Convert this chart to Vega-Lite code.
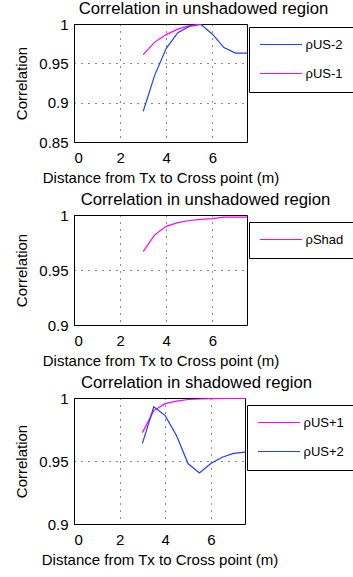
{
  "$schema": "https://vega.github.io/schema/vega-lite/v6.json",
  "padding": {"left": 14, "top": 0, "right": 0, "bottom": 0},
  "spacing": 5,
  "resolve": {"scale": {"color": "independent"}, "legend": {"color": "independent"}},
  "config": {
    "font": "Liberation Sans",
    "view": {"stroke": "black", "strokeWidth": 1},
    "title": {"fontSize": 16.7, "fontWeight": "normal", "color": "black", "offset": -1},
    "axis": {
      "labelFontSize": 15, "titleFontSize": 15, "titleFontWeight": "normal",
      "labelColor": "black", "titleColor": "black",
      "ticks": false, "domain": false,
      "grid": true, "gridColor": "black", "gridDash": [1, 6], "gridOpacity": 0.9, "gridWidth": 1
    },
    "axisX": {"labelPadding": 8, "titlePadding": 5},
    "axisY": {"labelPadding": 6, "titlePadding": 9},
    "legend": {
      "orient": "none", "title": null,
      "strokeColor": "black", "fillColor": "white",
      "symbolType": "M-5,0H5", "symbolSize": 70.56, "symbolStrokeWidth": 1.2,
      "symbolOffset": 14.5, "labelOffset": 18,
      "labelFontSize": 13, "labelColor": "black",
      "padding": 11, "rowPadding": 15
    }
  },
  "datasets": {
    "d": [
      {"panel": 1, "series": "ρUS-2", "x": 3.0, "y": 0.889},
      {"panel": 1, "series": "ρUS-2", "x": 3.5, "y": 0.935},
      {"panel": 1, "series": "ρUS-2", "x": 4.0, "y": 0.969},
      {"panel": 1, "series": "ρUS-2", "x": 4.5, "y": 0.989},
      {"panel": 1, "series": "ρUS-2", "x": 5.0, "y": 0.997},
      {"panel": 1, "series": "ρUS-2", "x": 5.5, "y": 0.9995},
      {"panel": 1, "series": "ρUS-2", "x": 6.0, "y": 0.987},
      {"panel": 1, "series": "ρUS-2", "x": 6.5, "y": 0.970},
      {"panel": 1, "series": "ρUS-2", "x": 7.0, "y": 0.963},
      {"panel": 1, "series": "ρUS-2", "x": 7.5, "y": 0.963},
      {"panel": 1, "series": "ρUS-1", "x": 3.0, "y": 0.961},
      {"panel": 1, "series": "ρUS-1", "x": 3.5, "y": 0.977},
      {"panel": 1, "series": "ρUS-1", "x": 4.0, "y": 0.9865},
      {"panel": 1, "series": "ρUS-1", "x": 4.5, "y": 0.9935},
      {"panel": 1, "series": "ρUS-1", "x": 5.0, "y": 0.998},
      {"panel": 1, "series": "ρUS-1", "x": 5.5, "y": 0.9998},
      {"panel": 2, "series": "ρShad", "x": 3.0, "y": 0.967},
      {"panel": 2, "series": "ρShad", "x": 3.5, "y": 0.982},
      {"panel": 2, "series": "ρShad", "x": 4.0, "y": 0.9897},
      {"panel": 2, "series": "ρShad", "x": 4.5, "y": 0.993},
      {"panel": 2, "series": "ρShad", "x": 5.0, "y": 0.995},
      {"panel": 2, "series": "ρShad", "x": 5.5, "y": 0.996},
      {"panel": 2, "series": "ρShad", "x": 6.0, "y": 0.9967},
      {"panel": 2, "series": "ρShad", "x": 6.5, "y": 0.998},
      {"panel": 2, "series": "ρShad", "x": 7.0, "y": 0.998},
      {"panel": 2, "series": "ρShad", "x": 7.5, "y": 0.998},
      {"panel": 3, "series": "ρUS+1", "x": 3.0, "y": 0.9725},
      {"panel": 3, "series": "ρUS+1", "x": 3.5, "y": 0.990},
      {"panel": 3, "series": "ρUS+1", "x": 4.0, "y": 0.9955},
      {"panel": 3, "series": "ρUS+1", "x": 4.5, "y": 0.9975},
      {"panel": 3, "series": "ρUS+1", "x": 5.0, "y": 0.9988},
      {"panel": 3, "series": "ρUS+1", "x": 5.5, "y": 0.9992},
      {"panel": 3, "series": "ρUS+1", "x": 6.0, "y": 0.9995},
      {"panel": 3, "series": "ρUS+1", "x": 6.5, "y": 0.9996},
      {"panel": 3, "series": "ρUS+1", "x": 7.0, "y": 0.9996},
      {"panel": 3, "series": "ρUS+1", "x": 7.5, "y": 0.9996},
      {"panel": 3, "series": "ρUS+2", "x": 3.0, "y": 0.964},
      {"panel": 3, "series": "ρUS+2", "x": 3.5, "y": 0.993},
      {"panel": 3, "series": "ρUS+2", "x": 4.0, "y": 0.986},
      {"panel": 3, "series": "ρUS+2", "x": 4.5, "y": 0.970},
      {"panel": 3, "series": "ρUS+2", "x": 5.0, "y": 0.948},
      {"panel": 3, "series": "ρUS+2", "x": 5.5, "y": 0.9405},
      {"panel": 3, "series": "ρUS+2", "x": 6.0, "y": 0.948},
      {"panel": 3, "series": "ρUS+2", "x": 6.5, "y": 0.953},
      {"panel": 3, "series": "ρUS+2", "x": 7.0, "y": 0.956},
      {"panel": 3, "series": "ρUS+2", "x": 7.5, "y": 0.957}
    ]
  },
  "vconcat": [
    {
      "width": 173, "height": 118,
      "title": {"text": "Correlation in unshadowed region", "dx": 43},
      "data": {"name": "d"},
      "transform": [{"filter": "datum.panel == 1"}],
      "mark": {"type": "line", "strokeWidth": 1.2, "clip": true},
      "encoding": {
        "x": {"field": "x", "type": "quantitative", "scale": {"domain": [0, 7.5], "nice": false},
              "axis": {"values": [0, 2, 4, 6], "title": "Distance from Tx to Cross point  (m)"}},
        "y": {"field": "y", "type": "quantitative", "scale": {"domain": [0.85, 1], "nice": false, "zero": false},
              "axis": {"values": [0.85, 0.9, 0.95, 1], "format": "~g", "title": "Correlation"}},
        "color": {"field": "series", "type": "nominal",
                  "scale": {"domain": ["ρUS-2", "ρUS-1"], "range": ["#1f3dff", "#ff00ff"]},
                  "legend": {"legendX": 175, "legendY": 3}}
      }
    },
    {
      "width": 173, "height": 110,
      "title": {"text": "Correlation in unshadowed region", "dx": 45},
      "data": {"name": "d"},
      "transform": [{"filter": "datum.panel == 2"}],
      "mark": {"type": "line", "strokeWidth": 1.2, "clip": true},
      "encoding": {
        "x": {"field": "x", "type": "quantitative", "scale": {"domain": [0, 7.5], "nice": false},
              "axis": {"values": [0, 2, 4, 6], "title": "Distance from Tx to Cross point  (m)"}},
        "y": {"field": "y", "type": "quantitative", "scale": {"domain": [0.9, 1], "nice": false, "zero": false},
              "axis": {"values": [0.9, 0.95, 1], "format": "~g", "title": "Correlation"}},
        "color": {"field": "series", "type": "nominal",
                  "scale": {"domain": ["ρShad"], "range": ["#ff00ff"]},
                  "legend": {"legendX": 175, "legendY": 7}}
      }
    },
    {
      "width": 171, "height": 126,
      "title": {"text": "Correlation in shadowed region", "dx": 37},
      "data": {"name": "d"},
      "transform": [{"filter": "datum.panel == 3"}],
      "mark": {"type": "line", "strokeWidth": 1.2, "clip": true},
      "encoding": {
        "x": {"field": "x", "type": "quantitative", "scale": {"domain": [0, 7.5], "nice": false},
              "axis": {"values": [0, 2, 4, 6], "title": "Distance from Tx to Cross point  (m)"}},
        "y": {"field": "y", "type": "quantitative", "scale": {"domain": [0.9, 1], "nice": false, "zero": false},
              "axis": {"values": [0.9, 0.95, 1], "format": "~g", "title": "Correlation"}},
        "color": {"field": "series", "type": "nominal",
                  "scale": {"domain": ["ρUS+1", "ρUS+2"], "range": ["#ff00ff", "#1f3dff"]},
                  "legend": {"legendX": 173, "legendY": 7}}
      }
    }
  ]
}
